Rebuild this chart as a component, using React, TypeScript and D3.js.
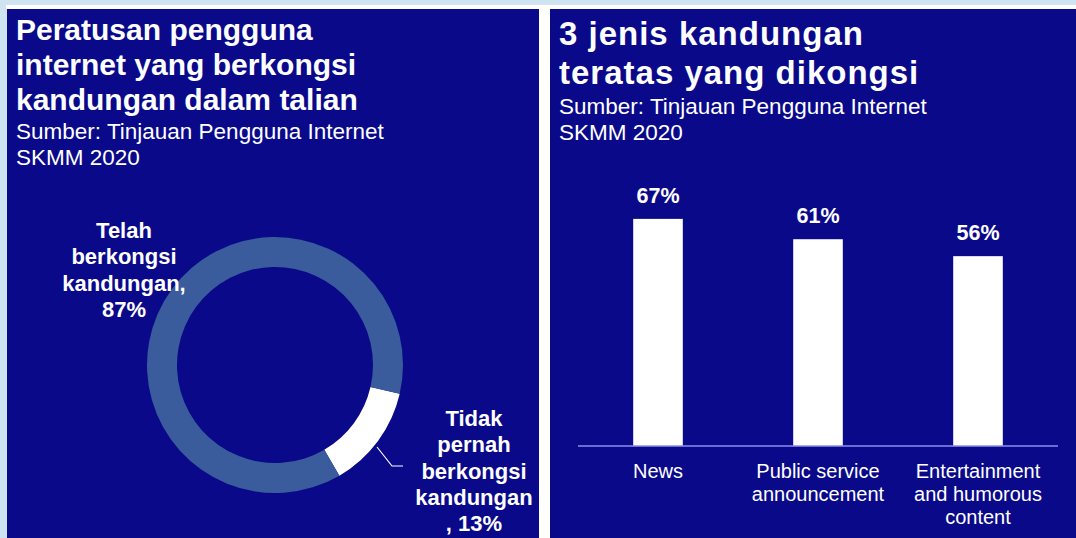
import React from "react";
import * as d3 from "d3";

const donutLabels = ["Tidak pernah berkongsi kandungan", "Telah berkongsi kandungan"];
const donutValues = [13, 87];

const barCategories = ["News", "Public service announcement", "Entertainment and humorous content"];
const barValues = [67, 61, 56];
const barCategoryLines = [["News"], ["Public service", "announcement"], ["Entertainment", "and humorous", "content"]];

const leftTitle = ["Peratusan pengguna", "internet yang berkongsi", "kandungan dalam talian"];
const rightTitle = ["3 jenis kandungan", "teratas yang dikongsi"];
const sourceLines = ["Sumber: Tinjauan Pengguna Internet", "SKMM 2020"];
const telahLabel = ["Telah", "berkongsi", "kandungan,", "87%"];
const tidakLabel = ["Tidak", "pernah", "berkongsi", "kandungan", ", 13%"];

const W = 1076;
const H = 538;
const NAVY = "#09098a";
const DONUT = "#3a5b9c";
const FONT = "'Liberation Sans', Arial, sans-serif";

export default function App() {
  const cx = 275;
  const cy = 365;
  const pie = d3
    .pie<number>()
    .sort(null)
    .startAngle((103 * Math.PI) / 180)
    .endAngle((103 * Math.PI) / 180 + 2 * Math.PI);
  const arcs = pie(donutValues);
  const arc = d3.arc<d3.PieArcDatum<number>>().innerRadius(98).outerRadius(128);
  const colors = ["#ffffff", DONUT];

  const x = d3.scaleBand<string>().domain(barCategories).range([578, 1058]).paddingInner(0.69).paddingOuter(0.345);
  const y = d3.scaleLinear().domain([0, 100]).range([446, 107]);

  return (
    <svg width={W} height={H} style={{ position: "absolute", left: 0, top: 0 }} fontFamily={FONT}>
      <rect x={0} y={0} width={W} height={H} fill="#cfe4f0" />
      <rect x={6} y={5} width={W - 6} height={4} fill="#ffffff" />
      <rect x={538} y={5} width={12} height={H} fill="#ffffff" />
      <rect x={7} y={9} width={532} height={H - 9} fill={NAVY} />
      <rect x={550} y={9} width={W - 550} height={H - 9} fill={NAVY} />

      {/* left title */}
      {leftTitle.map((t, i) => (
        <text key={t} x={16} y={40 + i * 35} fill="#fff" fontSize={30} fontWeight="bold">
          {t}
        </text>
      ))}
      {sourceLines.map((t, i) => (
        <text key={"ls" + i} x={16} y={139 + i * 26} fill="#fff" fontSize={22.5}>
          {t}
        </text>
      ))}

      {/* donut */}
      <g transform={`translate(${cx},${cy})`}>
        {arcs.map((a, i) => (
          <path key={donutLabels[i]} d={arc(a) || ""} fill={colors[i]} />
        ))}
      </g>
      <polyline points="377,447 392,466 403,466" fill="none" stroke="#ffffff" strokeWidth={1.2} />
      {telahLabel.map((t, i) => (
        <text key={"tl" + i} x={124} y={238 + i * 26.3} fill="#fff" fontSize={22} fontWeight="bold" textAnchor="middle">
          {t}
        </text>
      ))}
      {tidakLabel.map((t, i) => (
        <text key={"td" + i} x={474} y={426 + i * 26.3} fill="#fff" fontSize={22} fontWeight="bold" textAnchor="middle">
          {t}
        </text>
      ))}

      {/* right title */}
      {rightTitle.map((t, i) => (
        <text key={t} x={559} y={45 + i * 39} fill="#fff" fontSize={33} fontWeight="bold" letterSpacing={1}>
          {t}
        </text>
      ))}
      {sourceLines.map((t, i) => (
        <text key={"rs" + i} x={559} y={114 + i * 26} fill="#fff" fontSize={22.5}>
          {t}
        </text>
      ))}

      {/* bars */}
      {barCategories.map((c, i) => (
        <g key={c}>
          <rect x={x(c)} y={y(barValues[i])} width={x.bandwidth()} height={y(0) - y(barValues[i])} fill="#ffffff" />
          <text
            x={(x(c) as number) + x.bandwidth() / 2}
            y={y(barValues[i]) - 16}
            fill="#fff"
            fontSize={21.5}
            fontWeight="bold"
            textAnchor="middle"
          >
            {barValues[i]}%
          </text>
          {barCategoryLines[i].map((l, j) => (
            <text
              key={l}
              x={(x(c) as number) + x.bandwidth() / 2}
              y={478 + j * 23}
              fill="#fff"
              fontSize={20}
              textAnchor="middle"
            >
              {l}
            </text>
          ))}
        </g>
      ))}
      <line x1={578} x2={1058} y1={y(0)} y2={y(0)} stroke="#8e8ee8" strokeWidth={1.5} />
    </svg>
  );
}
